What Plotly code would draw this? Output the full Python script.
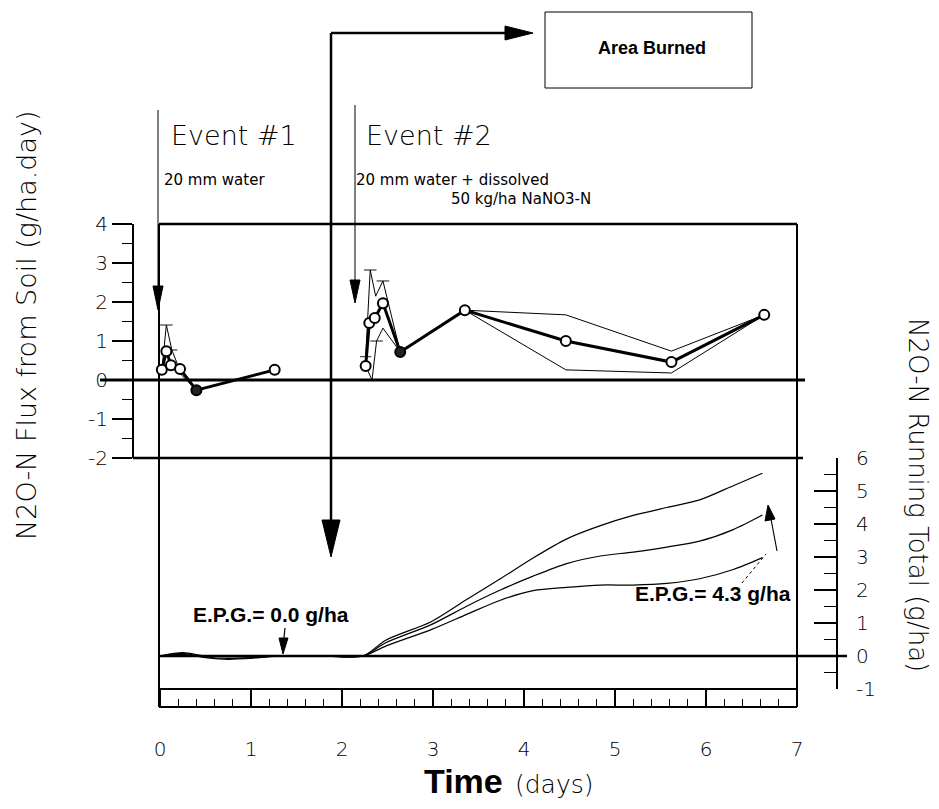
import plotly.graph_objects as go

# ---------------- data ----------------
# Top panel: N2O-N flux (g/ha.day), event #1
ev1_days = [0.02, 0.07, 0.12, 0.22, 0.40, 1.26]
ev1_mean = [0.26, 0.74, 0.38, 0.28, -0.26, 0.26]
ev1_up_days = [0.02, 0.07, 0.13, 0.24, 0.40, 1.26]
ev1_upper = [0.26, 1.41, 0.77, 0.12, -0.26, 0.26]

# Top panel: event #2
ev2_days = [2.26, 2.30, 2.36, 2.45, 2.64, 3.35, 4.46, 5.62, 6.64]
ev2_mean = [0.36, 1.46, 1.59, 1.97, 0.72, 1.79, 1.00, 0.46, 1.67]
ev2_up_days = [2.26, 2.31, 2.37, 2.45, 2.64, 3.35, 4.46, 5.62, 6.64]
ev2_upper = [0.60, 2.82, 2.15, 2.54, 0.72, 1.79, 1.67, 0.74, 1.67]
ev2_lo_days = [2.26, 2.33, 2.38, 2.45, 2.64, 3.35, 4.46, 5.62, 6.64]
ev2_lower = [0.36, 0.00, 1.00, 1.33, 0.72, 1.79, 0.26, 0.18, 1.67]

# Lower panel: N2O-N running total (g/ha)
rt_days = [0.0, 0.25, 0.5, 0.75, 1.05, 1.32, 1.8, 2.23, 2.48, 2.98, 3.37, 3.74,
           4.10, 4.47, 4.84, 5.20, 5.57, 5.93, 6.30, 6.62]
rt_upper = [0, 0.10, 0.0, -0.02, -0.01, 0, 0, 0, 0.48, 1.04, 1.71, 2.34,
            2.97, 3.55, 3.95, 4.26, 4.50, 4.73, 5.16, 5.54]
rt_mean = [0, 0.08, -0.03, -0.07, -0.04, 0, 0, 0, 0.40, 0.95, 1.51, 2.00,
           2.42, 2.80, 3.03, 3.15, 3.30, 3.48, 3.83, 4.27]
rt_lower = [0, 0.05, -0.05, -0.10, -0.06, 0, 0, 0, 0.30, 0.80, 1.26, 1.69,
            1.98, 2.08, 2.15, 2.15, 2.20, 2.34, 2.62, 2.98]

x_ticks = [0, 1, 2, 3, 4, 5, 6, 7]
x_ticktext = ["0", "1", "2", "3", "4", "5", "6", "7"]
yl_ticks = [-2, -1, 0, 1, 2, 3, 4]
yl_ticktext = ["-2", "-1", "0", "1", "2", "3", "4"]
yr_ticks = [-1, 0, 1, 2, 3, 4, 5, 6]
yr_ticktext = ["-1", "0", "1", "2", "3", "4", "5", "6"]

# ---------------- geometry (pixels) ----------------
W_FIG, H_FIG = 939, 809
L, R, T, B = 133, 837, 224, 707
PW, PH = R - L, B - T


def px(x):
    return (x - L) / PW


def py(y):
    return (B - y) / PH


HAND = "DejaVu Sans, Open Sans, sans-serif"
BOLD = "Liberation Sans, Arial, sans-serif"

fig = go.Figure()

# top panel traces
fig.add_trace(go.Scatter(x=ev1_up_days, y=ev1_upper, mode="lines+markers",
                         line=dict(color="black", width=1),
                         marker=dict(symbol="line-ew", size=[0, 9, 8, 0, 0, 0],
                                     line=dict(color="black", width=1.3)),
                         yaxis="y", showlegend=False))
fig.add_trace(go.Scatter(x=ev2_up_days, y=ev2_upper, mode="lines+markers",
                         line=dict(color="black", width=1),
                         marker=dict(symbol="line-ew", size=[8, 9, 0, 9, 0, 0, 0, 0, 0],
                                     line=dict(color="black", width=1.3)),
                         yaxis="y", showlegend=False))
fig.add_trace(go.Scatter(x=ev2_lo_days, y=ev2_lower, mode="lines+markers",
                         line=dict(color="black", width=1),
                         marker=dict(symbol="line-ew", size=[0, 0, 9, 0, 0, 0, 0, 0, 0],
                                     line=dict(color="black", width=1.3)),
                         yaxis="y", showlegend=False))
for xs, ys, fills in [(ev1_days, ev1_mean, ["white"] * 4 + ["#222"] + ["white"]),
                      (ev2_days, ev2_mean, ["white"] * 4 + ["#222"] + ["white"] * 4)]:
    fig.add_trace(go.Scatter(x=xs, y=ys, mode="lines+markers",
                             line=dict(color="black", width=3),
                             marker=dict(symbol="circle", size=10, color=fills,
                                         line=dict(color="black", width=2)),
                             yaxis="y", showlegend=False))

# lower panel traces
for ys in (rt_upper, rt_mean, rt_lower):
    fig.add_trace(go.Scatter(x=rt_days, y=ys, mode="lines",
                             line=dict(color="black", width=1.2, shape="spline", smoothing=0.8),
                             yaxis="y2", showlegend=False))

shapes = []


def hline(x0, x1, y, w=2):
    shapes.append(dict(type="line", xref="paper", yref="paper", x0=px(x0), x1=px(x1),
                       y0=py(y), y1=py(y), line=dict(color="black", width=w), layer="below"))


def vline(x, y0, y1, w=2):
    shapes.append(dict(type="line", xref="paper", yref="paper", x0=px(x), x1=px(x),
                       y0=py(y0), y1=py(y1), line=dict(color="black", width=w), layer="below"))


def tri(pts):
    path = "M " + " L ".join(f"{px(a)},{py(b)}" for a, b in pts) + " Z"
    shapes.append(dict(type="path", xref="paper", yref="paper", path=path,
                       fillcolor="black", line=dict(color="black", width=1)))


# frames
hline(159, 797, 224, 2.5)      # top border
hline(100, 805, 380, 3)        # top-panel zero line
hline(133, 803, 458, 2.5)      # divider (-2 / 6)
hline(159, 847, 656, 2.5)      # lower zero line
hline(159, 797, 689, 2)        # lower box bottom
hline(159, 797, 707, 2)        # strip bottom
vline(159, 224, 707, 2)        # left edge
vline(797, 224, 707, 2)        # right edge

# event markers
vline(158, 110, 292, 1)
tri([(158, 310), (153, 286), (163, 286)])
vline(355, 105, 285, 1)
tri([(355, 303), (350, 280), (360, 280)])

# big arrow & Area Burned box
vline(331, 33, 525, 2.5)
hline(331, 510, 33, 2.5)
tri([(533, 33), (505, 26), (505, 40)])
tri([(331, 557), (322, 520), (340, 520)])
shapes.append(dict(type="rect", xref="paper", yref="paper", x0=px(545), x1=px(752),
                   y0=py(12), y1=py(88), line=dict(color="black", width=1)))

# E.P.G. arrows
shapes.append(dict(type="line", xref="paper", yref="paper", x0=px(285), x1=px(283.5),
                   y0=py(628), y1=py(642), line=dict(color="black", width=1.2)))
tri([(283, 654), (279, 638), (288, 638)])
shapes.append(dict(type="line", xref="paper", yref="paper", x0=px(777), x1=px(771),
                   y0=py(551), y1=py(519), line=dict(color="black", width=1.2)))
tri([(768, 505), (765, 521), (775, 519)])
shapes.append(dict(type="line", xref="paper", yref="paper", x0=px(742), x1=px(766),
                   y0=py(583), y1=py(554), line=dict(color="black", width=1, dash="dot")))

annotations = []


def text(t, x, y, size, family=HAND, xanchor="left", yanchor="middle", angle=0, weight=None):
    f = dict(family=family, size=size, color="black")
    if weight:
        f["weight"] = weight
    annotations.append(dict(text=t, xref="paper", yref="paper", x=px(x), y=py(y),
                            xanchor=xanchor, yanchor=yanchor, showarrow=False,
                            font=f, textangle=angle, borderpad=0))


text("Event #1", 170, 136, 27, weight=200)
text("Event #2", 365, 136, 27, weight=200)
text("20 mm water", 163, 180, 15)
text("20 mm water + dissolved", 355, 180, 15)
text("50 kg/ha NaNO3-N", 450, 199, 15)
text("<b>Area Burned</b>", 652, 48, 18, family=BOLD, xanchor="center")
text("<b>E.P.G.= 0.0 g/ha</b>", 192, 614, 21, family=BOLD)
text("<b>E.P.G.= 4.3 g/ha</b>", 634, 593, 21, family=BOLD)
text("N2O-N Flux from Soil (g/ha.day)", 26, 325, 27, xanchor="center", angle=-90, weight=200)
text("N2O-N Running Total (g/ha)", 918, 495, 26, xanchor="center", angle=90, weight=200)
text("<b>Time</b>", 504, 781, 34, family=BOLD, xanchor="right")
text("(days)", 514, 784, 25, weight=200)

fig.update_layout(
    width=W_FIG, height=H_FIG,
    margin=dict(l=L, r=W_FIG - R, t=T, b=H_FIG - B, pad=0),
    paper_bgcolor="white", plot_bgcolor="rgba(0,0,0,0)",
    shapes=shapes, annotations=annotations, showlegend=False,
    xaxis=dict(range=[(L - 160) / 91, (R - 160) / 91], anchor="free", position=0,
               showgrid=False, zeroline=False, showline=False,
               tickvals=x_ticks, ticktext=x_ticktext, ticks="inside", ticklen=18,
               tickwidth=1.5, tickcolor="black", ticklabelstandoff=28,
               tickfont=dict(family=HAND, size=20, color="black", weight=200),
               minor=dict(tickvals=[i / 5 for i in range(1, 35) if i % 5],
                          ticks="inside", ticklen=8, tickwidth=1.2, tickcolor="black")),
    yaxis=dict(range=[-2, 4], domain=[py(458), 1.0], anchor="free", position=0, side="left",
               showgrid=False, zeroline=False, showline=True, linecolor="black", linewidth=2,
               tickvals=yl_ticks, ticktext=yl_ticktext, ticks="outside", ticklen=20,
               tickwidth=1.5, tickcolor="black",
               tickfont=dict(family=HAND, size=20, color="black", weight=200),
               minor=dict(dtick=0.5, tick0=0, ticks="outside", ticklen=10, tickwidth=1.2,
                          tickcolor="black")),
    yaxis2=dict(range=[-1, 6], domain=[py(689), py(458)], anchor="free", position=1,
                side="right", showgrid=False, zeroline=False, showline=True,
                linecolor="black", linewidth=2,
                tickvals=yr_ticks, ticktext=yr_ticktext, ticks="inside", ticklen=22,
                tickwidth=1.5, tickcolor="black", ticklabelstandoff=14,
                tickfont=dict(family=HAND, size=20, color="black", weight=200),
                minor=dict(dtick=0.5, tick0=0, ticks="inside", ticklen=12, tickwidth=1.2,
                           tickcolor="black")),
)

fig.write_html("out.html", config={"displayModeBar": False},
               post_script="document.body.style.margin='0px';")
